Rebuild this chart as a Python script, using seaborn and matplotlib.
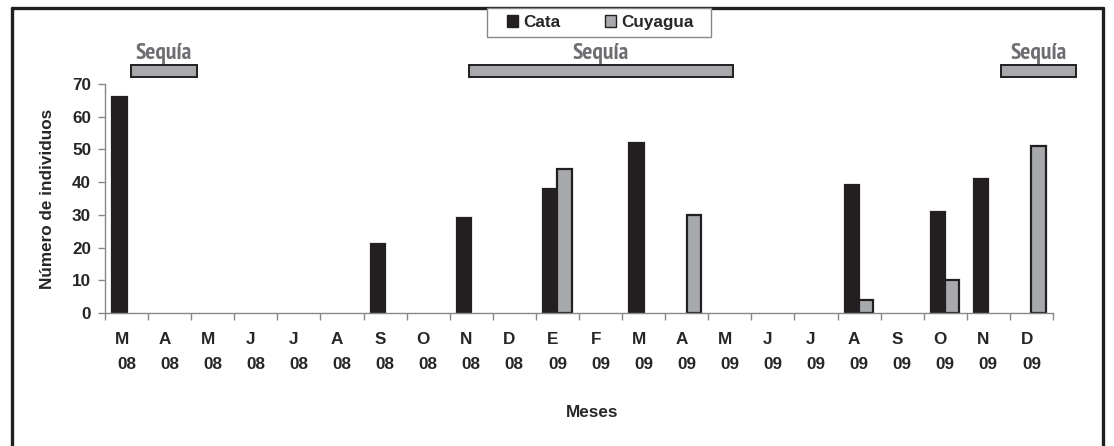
import matplotlib
matplotlib.use("Agg")
import matplotlib.pyplot as plt
import seaborn as sns
import pandas as pd
import numpy as np
from matplotlib.patches import Rectangle
from matplotlib.lines import Line2D
from matplotlib.patches import Patch
from matplotlib import font_manager

months = ["M", "A", "M", "J", "J", "A", "S", "O", "N", "D",
          "E", "F", "M", "A", "M", "J", "J", "A", "S", "O", "N", "D"]
years = ["08"] * 10 + ["09"] * 12
cata = [66, 0, 0, 0, 0, 0, 21, 0, 29, 0, 38, 0, 52, 0, 0, 0, 0, 39, 0, 31, 41, 0]
cuyagua = [0, 0, 0, 0, 0, 0, 0, 0, 0, 0, 44, 0, 0, 30, 0, 0, 0, 4, 0, 10, 0, 51]
series = ["Cata", "Cuyagua"]
drought_label = "Sequía"
drought_spans = [(0.6, 2.13), (8.45, 14.57), (20.79, 22.53)]

labels = [f"{m}  \n{y}" for m, y in zip(months, years)]
keys = [f"{i}" for i in range(len(labels))]
df = pd.DataFrame({
    "mes": keys * 2,
    "serie": [series[0]] * len(keys) + [series[1]] * len(keys),
    "valor": cata + cuyagua,
})

sns.set_theme(style="white")
plt.rcParams["font.family"] = ["Liberation Sans", "DejaVu Sans"]

# condensed font for the "Sequía" labels if available
cond_font = None
for f in font_manager.fontManager.ttflist:
    if ("Narrow" in f.name or "Condensed" in f.name or f.stretch in ("condensed", 'semi-condensed')) and f.weight in (600, 700, "bold"):
        cond_font = f.fname
        if "Narrow" in f.name:
            break

W, H = 1114, 446
fig = plt.figure(figsize=(W / 100, H / 100), dpi=100)
ax = fig.add_axes([105 / W, 1 - 313 / H, 948 / W, 229 / H])

dark = "#231f20"
grey = "#a7a9ac"
sns.barplot(data=df, x="mes", y="valor", hue="serie", order=keys,
            hue_order=series, palette=[dark, grey], width=0.66,
            edgecolor=dark, linewidth=1.6, saturation=1, ax=ax, legend=False)
for p in ax.patches:
    if p.get_height() == 0:
        p.set_linewidth(0)

fs = 12.3
ax.set_xlim(-0.5, len(keys) - 0.5)
ax.set_ylim(0, 70)
ax.set_yticks(range(0, 71, 10))
ax.set_xticks(range(len(keys)))
ax.set_xticklabels(labels, fontweight="bold", fontsize=fs, linespacing=1.8)
ax.set_xticks(np.arange(-0.5, len(keys), 1), minor=True)
ax.tick_params(axis="x", which="major", length=0, pad=14)
ax.tick_params(axis="x", which="minor", length=5, color="#888888", width=1, direction="out", bottom=True)
ax.tick_params(axis="y", length=5, color="#888888", width=1, direction="out", left=True, pad=5)
for t in ax.get_yticklabels():
    t.set_fontweight("bold")
    t.set_fontsize(fs)
for s in ["top", "right"]:
    ax.spines[s].set_visible(False)
for s in ["left", "bottom"]:
    ax.spines[s].set_color("#888888")
    ax.spines[s].set_linewidth(1)

ax.set_xlabel("Meses", fontweight="bold", fontsize=fs)
ax.xaxis.set_label_coords(0.514, -0.40)
ax.set_ylabel("Número de individuos", fontweight="bold", fontsize=fs)
ax.yaxis.set_label_coords(-0.053, 0.5)

for a, b in drought_spans:
    ax.add_patch(Rectangle((a - 0.5, 72.1), b - a, 3.7, facecolor=grey,
                           edgecolor=dark, linewidth=1.4, clip_on=False))
    kw = dict(fontsize=16, fontweight="bold")
    if cond_font:
        kw = dict(fontproperties=font_manager.FontProperties(fname=cond_font, size=17))
    ax.text((a + b) / 2 - 0.5, 76.0, drought_label, ha="center", va="bottom",
            color="#6d6e71", clip_on=False, **kw)

# legend: frame drawn as a rectangle, entries by matplotlib
fig.add_artist(Rectangle((487 / W, 1 - 37 / H), 224 / W, 29 / H, transform=fig.transFigure,
                         facecolor="white", edgecolor="#888888", linewidth=1, zorder=9))
handles = [Patch(facecolor=dark, edgecolor=dark, label=series[0]),
           Patch(facecolor=grey, edgecolor=dark, label=series[1])]
leg = fig.legend(handles=handles, loc="center", bbox_to_anchor=(600 / W, 1 - 22.5 / H),
                 ncol=2, frameon=False, prop={"weight": "bold", "size": fs},
                 handlelength=0.65, handleheight=0.65, handletextpad=0.3,
                 columnspacing=2.6, borderpad=0.2, borderaxespad=0)
leg.set_zorder(10)

# outer frame
lw = 2.4
fig.add_artist(Line2D([12 / W, 12 / W], [0, 1 - 8 / H], color=dark, lw=lw, transform=fig.transFigure))
fig.add_artist(Line2D([1103 / W, 1103 / W], [0, 1 - 8 / H], color=dark, lw=lw, transform=fig.transFigure))
fig.add_artist(Line2D([12 / W, 1103 / W], [1 - 8 / H, 1 - 8 / H], color=dark, lw=lw, transform=fig.transFigure, zorder=1))

fig.savefig("out.png", dpi=100)
